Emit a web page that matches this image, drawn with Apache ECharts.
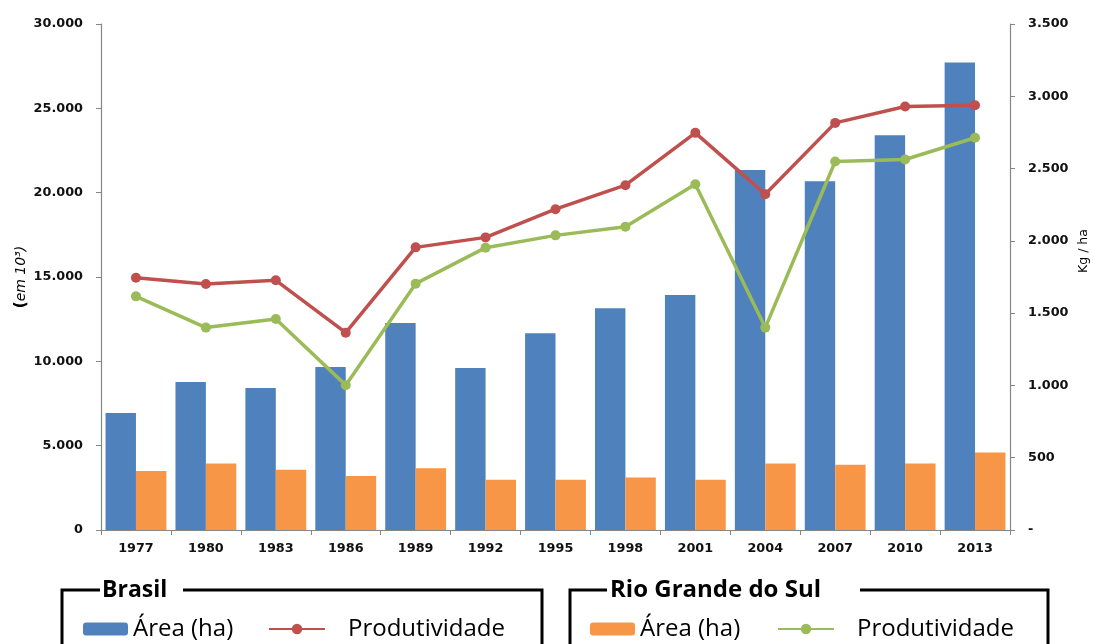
<!DOCTYPE html>
<html>
<head>
<meta charset="utf-8">
<script src="https://cdn.jsdelivr.net/npm/echarts@6/dist/echarts.min.js"></script>
<style>
html,body{margin:0;padding:0;background:#fff;}
#chart{width:1093px;height:644px;}
</style>
</head>
<body>
<div id="chart"></div>
<script>
const years = ['1977','1980','1983','1986','1989','1992','1995','1998','2001','2004','2007','2010','2013'];
const brAreaValues = [6940, 8770, 8420, 9660, 12270, 9600, 11660, 13140, 13930, 21340, 20670, 23410, 27720];
const rsAreaValues = [3500, 3950, 3575, 3200, 3660, 2980, 2980, 3120, 2980, 3950, 3870, 3950, 4600];
const brYieldValues = [1745, 1701, 1727, 1365, 1955, 2024, 2219, 2385, 2747, 2323, 2816, 2929, 2938];
const rsYieldValues = [1616, 1400, 1460, 1002, 1704, 1953, 2038, 2098, 2392, 1400, 2549, 2563, 2713];
const leftAxisMax = 30000, leftAxisStep = 5000;
const rightAxisMax = 3500, rightAxisStep = 500;
const rightAxisName = 'Kg / ha';
const groupTitles = ['Brasil', 'Rio Grande do Sul'];
const itemLabels = ['Área (ha)', 'Produtividade'];

function fmt(v){ return String(v).replace(/\B(?=(\d{3})+(?!\d))/g, '.'); }

const C_BLUE = '#4F81BD', C_ORANGE = '#F79646', C_RED = '#C0504D', C_GREEN = '#9BBB59';
const axisGray = '#868686';
const labelFont = {fontFamily: 'DejaVu Sans', fontWeight: 'bold', fontSize: 12.8, color: '#111'};
const legendText = {fontFamily: 'Open Sans', fontSize: 24, color: '#000'};

const names = ['Área (ha) Brasil', 'Produtividade Brasil', 'Área (ha) RS', 'Produtividade RS'];

const chart = echarts.init(document.getElementById('chart'));
chart.setOption({
  animation: false,
  backgroundColor: '#fff',
  grid: {left: 101, right: 83, top: 24, bottom: 114, containLabel: false, outerBoundsMode: 'none'},
  xAxis: {
    type: 'category', data: years,
    axisLine: {lineStyle: {color: axisGray, width: 1.2}},
    axisTick: {show: true, length: 5, lineStyle: {color: axisGray}},
    axisLabel: Object.assign({margin: 12}, labelFont)
  },
  yAxis: [{
    type: 'value', min: 0, max: leftAxisMax, interval: leftAxisStep, position: 'left',
    name: '{p|(}{i|em 10³)}', nameLocation: 'middle', nameGap: 72, nameRotate: 90, nameMoveOverlap: false,
    nameTextStyle: {
      color: '#000',
      rich: {
        p: {fontFamily: 'DejaVu Sans', fontWeight: 'bold', fontSize: 15, color: '#000'},
        i: {fontFamily: 'DejaVu Sans', fontStyle: 'italic', fontSize: 14, color: '#000'}
      }
    },
    axisLine: {show: true, lineStyle: {color: axisGray, width: 1.2}},
    axisTick: {show: true, length: 5, lineStyle: {color: axisGray}},
    splitLine: {show: false},
    axisLabel: Object.assign({margin: 18, formatter: v => fmt(v)}, labelFont)
  }, {
    type: 'value', min: 0, max: rightAxisMax, interval: rightAxisStep, position: 'right',
    name: rightAxisName, nameLocation: 'middle', nameGap: 67, nameRotate: 90, nameMoveOverlap: false,
    nameTextStyle: {fontFamily: 'DejaVu Sans', fontSize: 12.5, color: '#000', padding: [0, 0, 0, 52]},
    axisLine: {show: true, lineStyle: {color: axisGray, width: 1.2}},
    axisTick: {show: true, length: 5, lineStyle: {color: axisGray}},
    splitLine: {show: false},
    axisLabel: Object.assign({margin: 18, formatter: v => v === 0 ? '-' : fmt(v)}, labelFont)
  }],
  legend: [
    {left: 83, top: 617, padding: 0, itemWidth: 45, itemHeight: 13, selectedMode: false, data: [names[0]], formatter: () => itemLabels[0], textStyle: legendText},
    {left: 268, top: 617, padding: 0, itemWidth: 56, itemHeight: 13, selectedMode: false, data: [names[1]], formatter: () => itemLabels[1], textStyle: Object.assign({padding: [0,0,0,18]}, legendText)},
    {left: 590, top: 617, padding: 0, itemWidth: 45, itemHeight: 13, selectedMode: false, data: [names[2]], formatter: () => itemLabels[0], textStyle: legendText},
    {left: 777, top: 617, padding: 0, itemWidth: 56, itemHeight: 13, selectedMode: false, data: [names[3]], formatter: () => itemLabels[1], textStyle: Object.assign({padding: [0,0,0,18]}, legendText)}
  ],
  graphic: [
    {type: 'polyline', shape: {points: [[100,590],[62,590],[62,660]]}, style: {stroke: '#000', lineWidth: 3, fill: null}},
    {type: 'polyline', shape: {points: [[183,590],[542,590],[542,660]]}, style: {stroke: '#000', lineWidth: 3, fill: null}},
    {type: 'text', x: 102, y: 590, style: {text: groupTitles[0], fontFamily: 'Open Sans', fontWeight: 'bold', fontSize: 23, fill: '#000', verticalAlign: 'middle'}},
    {type: 'polyline', shape: {points: [[607,590],[570,590],[570,660]]}, style: {stroke: '#000', lineWidth: 3, fill: null}},
    {type: 'polyline', shape: {points: [[860,590],[1048,590],[1048,660]]}, style: {stroke: '#000', lineWidth: 3, fill: null}},
    {type: 'text', x: 610, y: 590, style: {text: groupTitles[1], fontFamily: 'Open Sans', fontWeight: 'bold', fontSize: 24, fill: '#000', verticalAlign: 'middle'}}
  ],
  series: [
    {name: names[0], type: 'bar', data: brAreaValues, yAxisIndex: 0, barGap: '0%', barCategoryGap: '13%',
     itemStyle: {color: C_BLUE}},
    {name: names[2], type: 'bar', data: rsAreaValues, yAxisIndex: 0,
     itemStyle: {color: C_ORANGE}},
    {name: names[1], type: 'line', data: brYieldValues, yAxisIndex: 1, symbol: 'circle', symbolSize: 10,
     lineStyle: {color: C_RED, width: 3.5}, itemStyle: {color: C_RED}, z: 5},
    {name: names[3], type: 'line', data: rsYieldValues, yAxisIndex: 1, symbol: 'circle', symbolSize: 10,
     lineStyle: {color: C_GREEN, width: 3.5}, itemStyle: {color: C_GREEN}, z: 5}
  ]
});
</script>
</body>
</html>
